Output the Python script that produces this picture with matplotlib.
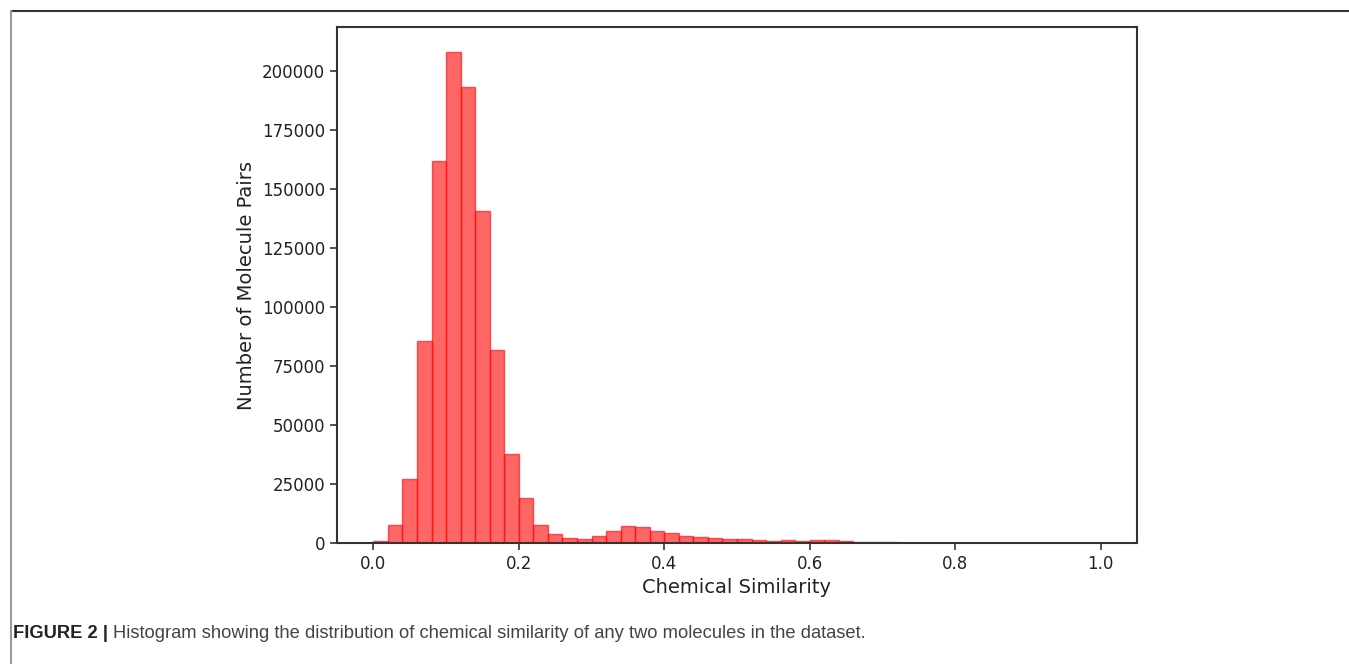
import matplotlib.pyplot as plt
from matplotlib.lines import Line2D
import numpy as np

# Histogram counts per bin (50 bins of width 0.02 over 0..1)
bin_edges = np.linspace(0.0, 1.0, 51)
counts = [800, 7700, 27300, 85700, 161800, 208400, 193300, 140800, 82000, 37900,
          19000, 7600, 3700, 2100, 1600, 2800, 5000, 7400, 6700, 5100,
          4200, 2900, 2500, 2100, 1600, 1800, 1400, 1000, 1250, 1000,
          1300, 1100, 850, 600, 450, 300, 220, 150, 90, 60,
          40, 30, 20, 15, 10, 8, 5, 4, 3, 2]
x_ticks = [0.0, 0.2, 0.4, 0.6, 0.8, 1.0]
y_ticks = [0, 25000, 50000, 75000, 100000, 125000, 150000, 175000, 200000]

fig = plt.figure(figsize=(13.49, 6.64), dpi=100)
ax = fig.add_axes([0.2498, 0.1822, 0.5930, 0.7771])

centers = (bin_edges[:-1] + bin_edges[1:]) / 2
ax.hist(centers, bins=bin_edges, weights=counts, color='red', alpha=0.6,
        edgecolor='red', linewidth=1.0)

ax.set_xticks(x_ticks)
ax.set_yticks(y_ticks)
ax.tick_params(labelsize=12, length=5, width=1.2, color='#333333', labelcolor='#222222')
ax.set_xlabel('Chemical Similarity', fontsize=14, color='#222222')
ax.set_ylabel('Number of Molecule Pairs', fontsize=14, color='#222222')
for s in ax.spines.values():
    s.set_color('#333333')
    s.set_linewidth(1.5)

# Page frame lines around the figure
fig.add_artist(Line2D([0.008, 1.0], [1 - 10.5 / 664, 1 - 10.5 / 664],
                      transform=fig.transFigure, color='#333333', lw=1.5))
fig.add_artist(Line2D([0.008, 0.008], [1 - 10.5 / 664, 0.0],
                      transform=fig.transFigure, color='#999999', lw=1.5))

# Caption
fam = ['Liberation Sans Narrow', 'Liberation Sans', 'DejaVu Sans']
t1 = fig.text(0.0095, 1 - 633 / 664, 'FIGURE 2 |', fontsize=13.2, fontweight='bold',
              family=fam, color='#222222', va='center')
fig.canvas.draw()
bb = t1.get_window_extent()
x2 = (bb.x1 + 5) / fig.bbox.width
fig.text(x2, 1 - 633 / 664,
         'Histogram showing the distribution of chemical similarity of any two molecules in the dataset.',
         fontsize=13.2, family=fam, color='#444444', va='center')

fig.savefig('out.png', dpi=100)
